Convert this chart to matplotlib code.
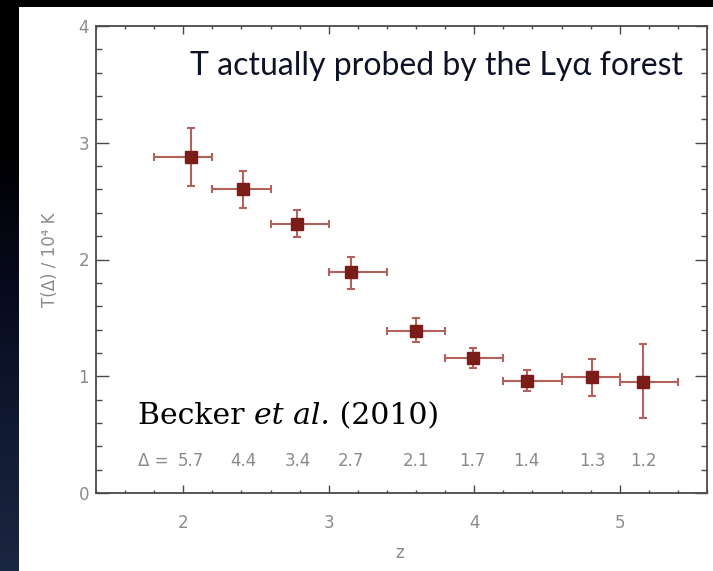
import numpy as np
import matplotlib
matplotlib.use("Agg")
import matplotlib.pyplot as plt
from matplotlib.patches import Rectangle
from matplotlib.colors import LinearSegmentedColormap
from matplotlib.ticker import MultipleLocator

# Temperature at the characteristic overdensity, per redshift bin
z_mid = [2.05, 2.41, 2.785, 3.15, 3.60, 3.99, 4.36, 4.81, 5.16]
z_low = [1.8, 2.2, 2.6, 3.0, 3.4, 3.8, 4.2, 4.6, 5.0]
z_high = [2.2, 2.6, 3.0, 3.4, 3.8, 4.2, 4.6, 5.0, 5.4]
temp = [2.875, 2.60, 2.305, 1.89, 1.39, 1.156, 0.963, 0.99, 0.953]
temp_high = [3.13, 2.76, 2.42, 2.025, 1.50, 1.24, 1.05, 1.15, 1.28]
temp_low = [2.63, 2.44, 2.19, 1.75, 1.29, 1.07, 0.875, 0.83, 0.64]
delta_labels = ["5.7", "4.4", "3.4", "2.7", "2.1", "1.7", "1.4", "1.3", "1.2"]
x_ticks = [2, 3, 4, 5]
y_ticks = [0, 1, 2, 3, 4]

W, H = 713, 571
fig = plt.figure(figsize=(W / 100, H / 100), dpi=100, facecolor="black")

# Slide background: dark gradient (black at top) with a white panel
bg = fig.add_axes([0, 0, 1, 1])
bg.set_zorder(-10)
bg.axis("off")
grad = np.linspace(0, 1, 256).reshape(-1, 1)
cmap = LinearSegmentedColormap.from_list(
    "slide", ["#000000", "#000000", "#070a1c", "#111a33", "#1b2640"])
bg.imshow(grad, extent=[0, 1, 0, 1], origin="upper", aspect="auto",
          cmap=cmap)
bg.add_patch(Rectangle((19 / W, 0), 1, 1 - 7 / H,
                       facecolor="white", edgecolor="none"))
bg.set_xlim(0, 1)
bg.set_ylim(0, 1)

ax = fig.add_axes([96 / W, 78 / H, 611 / W, 467 / H])
ax.set_facecolor("white")

z = np.array(z_mid)
t = np.array(temp)
xerr = [z - np.array(z_low), np.array(z_high) - z]
yerr = [t - np.array(temp_low), np.array(temp_high) - t]

ax.errorbar(z, t, xerr=xerr, yerr=yerr, fmt="none", ecolor="#b4605b",
            elinewidth=1.5, capsize=2.8, capthick=1.5, zorder=2)
ax.plot(z, t, "s", color="#7a1c17", ms=8.5, zorder=3)

ax.set_xlim(1.4, 5.6)
ax.set_ylim(0, 4)
ax.set_xticks(x_ticks)
ax.set_yticks(y_ticks)
ax.xaxis.set_minor_locator(MultipleLocator(0.2))
ax.yaxis.set_minor_locator(MultipleLocator(0.2))

spine_col = "#4a4a4a"
for s in ax.spines.values():
    s.set_color(spine_col)
    s.set_linewidth(1.3)

ax.tick_params(which="both", direction="in", top=True, right=True,
               color=spine_col, width=1.0, labelcolor="#8a8a8a",
               labelsize=12)
ax.tick_params(axis="x", which="major", length=6, pad=15)
ax.tick_params(axis="x", which="minor", length=2.5)
ax.tick_params(axis="y", which="major", length=9, pad=5)
ax.tick_params(axis="y", which="minor", length=4.5)

fig.text(50 / W, 1 - 260 / H, "T(Δ) / 10⁴ K", rotation=90, ha="center",
         va="center", color="#8a8a8a", fontsize=12)
fig.text(400 / W, 1 - 553 / H, "z", ha="center", va="center",
         color="#8a8a8a", fontsize=12)

ax.text(0.961, 0.895, "T actually probed by the Lyα forest",
        transform=ax.transAxes, ha="right", va="baseline",
        fontsize=23, color="#0d1226", family="Lato")

# Citation: upright name, italic "et al.", upright year
cite_kw = dict(fontsize=21.5, color="black", family="DejaVu Serif",
               va="bottom", ha="left")
c1 = ax.text(0.0687, 0.135, "Becker ", transform=ax.transAxes, **cite_kw)
c2 = ax.annotate("et al.", xy=(1, 0), xycoords=c1, style="italic",
                 **cite_kw)
ax.annotate(" (2010)", xy=(1, 0), xycoords=c2, **cite_kw)

for zi, lab in zip(z_mid, delta_labels):
    ax.text(zi, 0.235, lab, ha="center", va="baseline",
            fontsize=12, color="#8a8a8a")
ax.annotate("Δ =", xy=(z_mid[0], 0.235), xytext=(-16, 0),
            textcoords="offset points", ha="right", va="baseline",
            fontsize=12, color="#8a8a8a")

fig.savefig("out.png", dpi=100, facecolor=fig.get_facecolor())
